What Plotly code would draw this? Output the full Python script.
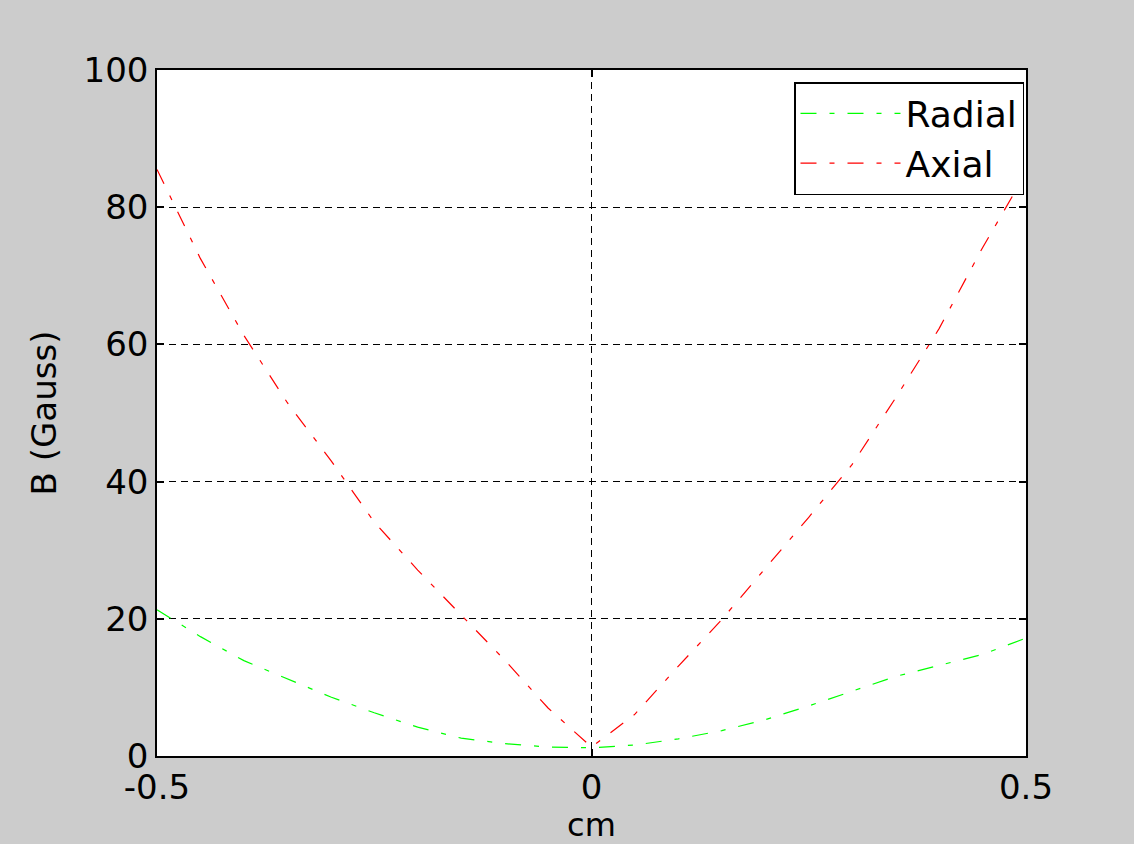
import plotly.graph_objects as go

x_cm = [-0.5, -0.45, -0.4, -0.35, -0.3, -0.25, -0.2, -0.15, -0.1, -0.05, 0.0,
        0.05, 0.1, 0.15, 0.2, 0.25, 0.3, 0.35, 0.4, 0.45, 0.5]
radial = [21.3, 17.4, 13.9, 11.3, 8.6, 6.3, 4.2, 2.6, 1.8, 1.3, 1.2,
          1.6, 2.5, 3.7, 5.3, 7.3, 9.5, 11.6, 13.2, 14.8, 17.2]
axial = [85.5, 72.5, 61.3, 51.5, 43.1, 34.1, 27.1, 20.5, 14.0, 7.0, 1.3,
         6.1, 13.1, 19.9, 27.3, 34.8, 42.5, 52.2, 62.3, 74.1, 85.0]

x_ticks = [-0.5, 0, 0.5]
x_ticklabels = ["-0.5", "0", "0.5"]
y_ticks = [0, 20, 40, 60, 80, 100]

FONT = "DejaVu Sans"
dash = "16px,13px,5px,13px"

fig = go.Figure()
fig.add_trace(go.Scatter(x=x_cm, y=radial, mode="lines", name="Radial",
                         line=dict(color="#00ff00", width=1.2, dash=dash)))
fig.add_trace(go.Scatter(x=x_cm, y=axial, mode="lines", name="Axial",
                         line=dict(color="#ff0000", width=1.2, dash=dash)))

axis_common = dict(
    showline=True, linecolor="black", linewidth=1.5, mirror="ticks",
    ticks="inside", ticklen=7, tickwidth=1.5, tickcolor="black",
    showgrid=True, gridcolor="black", gridwidth=1, griddash="7px,5px",
    zeroline=False, tickfont=dict(family=FONT, size=34, color="black"),
)

fig.update_xaxes(range=[-0.5, 0.5], tickvals=x_ticks, ticktext=x_ticklabels,
                 title=dict(text="cm", font=dict(family=FONT, size=32, color="black"), standoff=12),
                 **axis_common)
fig.update_yaxes(range=[0, 100], tickvals=y_ticks,
                 title=dict(text="B (Gauss)", font=dict(family=FONT, size=34, color="black"), standoff=17),
                 **axis_common)

fig.update_layout(
    width=1134, height=844,
    margin=dict(l=157, r=108, t=70, b=88, autoexpand=False),
    paper_bgcolor="#cccccc", plot_bgcolor="white",
    font=dict(family=FONT, color="black"),
    showlegend=True,
    legend=dict(x=0.9977, xanchor="right", y=0.9825, yanchor="top",
                bgcolor="white", bordercolor="black", borderwidth=1.5,
                font=dict(family=FONT, size=36, color="black"),
                itemwidth=100, tracegroupgap=0),
)

fig.write_html("out.html", config={"displayModeBar": False},
               post_script="document.body.style.margin='0';document.body.style.background='#cccccc';")
